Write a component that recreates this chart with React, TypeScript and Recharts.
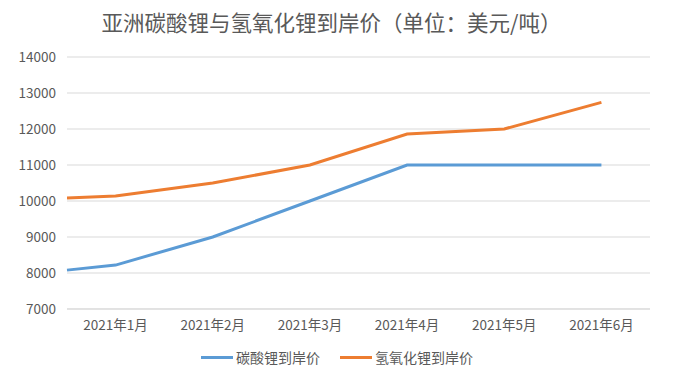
import { LineChart, Line, XAxis, YAxis, CartesianGrid, Legend } from "recharts";

// 月份标签（横轴）
const months = ["2021年1月", "2021年2月", "2021年3月", "2021年4月", "2021年5月", "2021年6月"];
// 数据点所在的月份位置（第一个点在1月之前的起始处）
const monthPos = [0.5, 1, 2, 3, 4, 5, 6];
// 碳酸锂到岸价（美元/吨）
const carbonate = [8080, 8220, 9000, 10000, 11000, 11000, 11000];
// 氢氧化锂到岸价（美元/吨）
const hydroxide = [10080, 10140, 10500, 11000, 11860, 12000, 12740];
const yTicks = [7000, 8000, 9000, 10000, 11000, 12000, 13000, 14000];
const seriesOrder = ["carbonate", "hydroxide"];

const data = monthPos.map((m, i) => ({
  m,
  carbonate: carbonate[i],
  hydroxide: hydroxide[i],
}));

const FONT = '"Noto Sans CJK SC", "Noto Sans", sans-serif';
const TEXT = "#595959";

const renderLegend = (props: any) => {
  const payload = [...(props.payload || [])].sort(
    (a: any, b: any) => seriesOrder.indexOf(a.dataKey) - seriesOrder.indexOf(b.dataKey)
  );
  return (
    <div style={{ display: "flex", justifyContent: "center", height: 20, lineHeight: "20px", paddingLeft: 24 }}>
      {payload.map((p: any, i: number) => (
        <div key={i} style={{ display: "flex", alignItems: "center", marginRight: i === 0 ? 20 : 0 }}>
          <span style={{ display: "inline-block", width: 32, height: 3, background: p.color, marginRight: 3 }} />
          <span style={{ fontSize: 14, color: TEXT, fontFamily: FONT }}>{p.value}</span>
        </div>
      ))}
    </div>
  );
};

export default function App() {
  return (
    <div style={{ position: "fixed", left: 0, top: 0, width: 683, height: 377, background: "#fff", fontFamily: FONT }}>
      <div
        style={{
          position: "absolute",
          top: 7,
          left: 0,
          width: 663,
          textAlign: "center",
          fontSize: 21.5,
          lineHeight: "30px",
          color: TEXT,
          zIndex: 1,
        }}
      >
        亚洲碳酸锂与氢氧化锂到岸价（单位：美元/吨）
      </div>
      <LineChart width={683} height={377} data={data} margin={{ top: 57, right: 33, left: 0, bottom: 10 }}>
        <CartesianGrid vertical={false} stroke="#d9d9d9" />
        <XAxis
          dataKey="m"
          type="number"
          domain={[0.5, 6.5]}
          ticks={[1, 2, 3, 4, 5, 6]}
          tickFormatter={(v: number) => months[v - 1]}
          axisLine={{ stroke: "#d9d9d9" }}
          tickLine={false}
          tickMargin={5}
          height={38}
          tick={{ fontSize: 13.5, fill: TEXT, fontFamily: FONT }}
        />
        <YAxis
          domain={[7000, 14000]}
          ticks={yTicks}
          width={67}
          axisLine={false}
          tickLine={false}
          tickMargin={5}
          tick={{ fontSize: 13.5, fill: TEXT, fontFamily: FONT }}
        />
        <Legend verticalAlign="bottom" height={20} content={renderLegend} />
        <Line
          type="linear"
          dataKey="carbonate"
          name="碳酸锂到岸价"
          stroke="#5b9bd5"
          strokeWidth={3}
          dot={false}
          isAnimationActive={false}
        />
        <Line
          type="linear"
          dataKey="hydroxide"
          name="氢氧化锂到岸价"
          stroke="#ed7d31"
          strokeWidth={3}
          dot={false}
          isAnimationActive={false}
        />
      </LineChart>
    </div>
  );
}
